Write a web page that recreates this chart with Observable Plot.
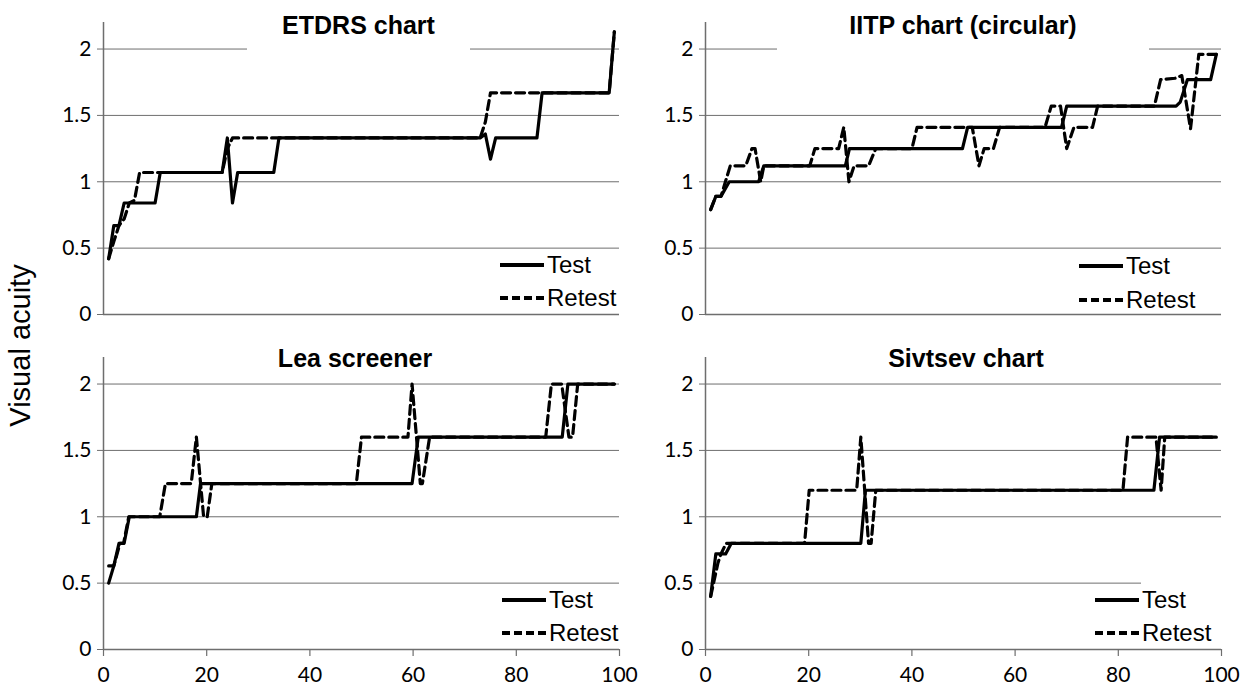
<!DOCTYPE html>
<html>
<head>
<meta charset="utf-8">
<script src="https://cdn.jsdelivr.net/npm/d3@7"></script>
<script src="https://cdn.jsdelivr.net/npm/@observablehq/plot@0.6"></script>
<style>
  html, body { margin: 0; padding: 0; background: #fff; }
  #wrap { position: relative; width: 1245px; height: 692px; background: #fff; overflow: hidden; }
  .panel { position: absolute; }
  .title { position: absolute; text-align: center; font-family: "Liberation Sans", Arial, sans-serif; font-weight: bold; font-size: 25px; color: #000; line-height: 1; }
  .leg { position: absolute; display: flex; align-items: center; font-family: "Liberation Sans", Arial, sans-serif; font-size: 24px; color: #000; height: 28px; }
  .leg svg { display: block; }
  .ylab { position: absolute; font-family: "Liberation Sans", Arial, sans-serif; font-size: 29px; color: #000; transform: rotate(-90deg); transform-origin: center center; white-space: nowrap; }
</style>
</head>
<body>
<div id="wrap"></div>
<script>
// ---------- data ----------
const panelTitles = ["ETDRS chart", "IITP chart (circular)", "Lea screener", "Sivtsev chart"];
const seriesNames = ["Test", "Retest"];
const yAxisTitle = "Visual acuity";
const yTicks = [0, 0.5, 1, 1.5, 2];
const xTicks = [0, 20, 40, 60, 80, 100];

// [x, visual acuity]
const etdrsTest = [[1,0.42],[2,0.67],[3,0.67],[4,0.84],[10,0.84],[11,1.07],[23,1.07],[24,1.33],[25,0.84],[26,1.07],[33,1.07],[34,1.33],[73,1.33],[74,1.36],[75,1.17],[76,1.33],[84,1.33],[85,1.67],[98,1.67],[99,2.13]];
const etdrsRetest = [[1,0.42],[2,0.55],[3,0.67],[4,0.72],[5,0.84],[6,0.86],[7,1.07],[23,1.07],[24,1.25],[25,1.33],[73,1.33],[74,1.45],[75,1.67],[98,1.67],[99,2.13]];

const iitpTest = [[1,0.79],[2,0.89],[3,0.89],[4.6,1.0],[10.3,1.0],[11.3,1.12],[27.1,1.12],[27.9,1.25],[49.8,1.25],[50.8,1.41],[69,1.41],[70,1.57],[91.2,1.57],[92,1.6],[93.4,1.77],[97.9,1.77],[99,1.96]];
const iitpRetest = [[1,0.79],[2,0.89],[3,0.89],[4.8,1.12],[7.8,1.12],[9,1.25],[9.6,1.25],[10.7,1.0],[11.3,1.12],[20.2,1.12],[21.2,1.25],[25.8,1.25],[26.8,1.41],[27.8,1.0],[28.8,1.12],[31.6,1.12],[33,1.25],[40,1.25],[41,1.41],[51.7,1.41],[53,1.12],[54,1.25],[55.8,1.25],[57,1.41],[65.8,1.41],[67,1.57],[68.8,1.57],[70,1.25],[71.4,1.41],[75,1.41],[76,1.57],[87,1.57],[88.2,1.77],[91,1.78],[92.3,1.8],[94,1.4],[95.6,1.96],[99,1.96]];

const leaTest = [[1,0.5],[2,0.63],[3,0.8],[4,0.8],[5,1.0],[18,1.0],[18.8,1.25],[59.8,1.25],[61,1.6],[88.9,1.6],[90,2.0],[99,2.0]];
const leaRetest = [[1,0.63],[2,0.63],[3.2,0.8],[3.9,0.8],[4.9,1.0],[10.9,1.0],[12,1.25],[17,1.25],[18,1.6],[19.4,1.0],[20.1,1.0],[21,1.25],[49,1.25],[50,1.6],[59,1.6],[59.8,2.0],[61.4,1.25],[61.8,1.25],[63.2,1.6],[85.7,1.6],[86.8,2.0],[88.8,2.0],[90.2,1.6],[90.9,1.6],[91.9,2.0],[99,2.0]];

const sivtsevTest = [[1,0.4],[2,0.72],[3.9,0.72],[5,0.8],[30.1,0.8],[31,1.2],[86.9,1.2],[88,1.6],[99,1.6]];
const sivtsevRetest = [[1,0.4],[2.4,0.65],[3,0.72],[4,0.8],[19.2,0.8],[20.1,1.2],[29.3,1.2],[30.1,1.6],[31.6,0.8],[32.1,0.8],[33,1.2],[80.9,1.2],[81.8,1.6],[87.3,1.6],[88.3,1.2],[89,1.6],[99,1.6]];

// ---------- layout ----------
const GRID = "#6e6e6e";
const panels = [
  {title: panelTitles[0], test: etdrsTest, retest: etdrsRetest, left: 0, top: 0, w: 630, h: 340, ml: 103, mr: 11, mt: 22, mb: 26, showX: false,
   tBox: {left: 247, top: 8, width: 223, height: 44, bg: true}, leg: {x: 500, y1: 265, y2: 298}},
  {title: panelTitles[1], test: iitpTest, retest: iitpRetest, left: 620, top: 0, w: 625, h: 340, ml: 85, mr: 24, mt: 22, mb: 26, showX: false,
   tBox: {left: 777, top: 8, width: 372, height: 44, bg: true}, leg: {x: 1079, y1: 266, y2: 300}},
  {title: panelTitles[2], test: leaTest, retest: leaRetest, left: 0, top: 340, w: 630, h: 352, ml: 103, mr: 11, mt: 17, mb: 43, showX: true,
   tBox: {left: 235, top: 344, width: 240, height: 26, bg: false}, leg: {x: 502, y1: 600, y2: 633}},
  {title: panelTitles[3], test: sivtsevTest, retest: sivtsevRetest, left: 620, top: 340, w: 625, h: 352, ml: 85, mr: 24, mt: 17, mb: 43, showX: true,
   tBox: {left: 846, top: 344, width: 240, height: 26, bg: false}, leg: {x: 1095, y1: 600, y2: 633, cover: true}}
];

const wrap = document.getElementById("wrap");

function makePlot(p) {
  return Plot.plot({
    width: p.w, height: p.h,
    marginLeft: p.ml, marginRight: p.mr, marginTop: p.mt, marginBottom: p.mb,
    style: {fontFamily: "Lato, 'Open Sans', sans-serif", fontSize: "21px", color: "#000", background: "transparent", overflow: "visible"},
    x: {domain: [0, 100], axis: null},
    y: {domain: [0, 2.2], axis: null},
    marks: [
      Plot.gridY(yTicks, {stroke: GRID, strokeOpacity: 1, strokeWidth: 1}),
      Plot.axisY(yTicks, {tickSize: 6, tickPadding: 6, stroke: GRID, strokeOpacity: 1, strokeWidth: 1, tickFormat: d => String(d), fill: "#000", label: null}),
      Plot.ruleX([0], {stroke: GRID, strokeWidth: 1.5}),
      Plot.ruleY([0], {stroke: GRID, strokeWidth: 1.5}),
      p.showX ? Plot.axisX(xTicks, {tickSize: 7, tickPadding: 11, stroke: GRID, strokeOpacity: 1, strokeWidth: 1.2, tickFormat: d => String(d), fill: "#000", label: null}) : null,
      Plot.line(p.retest, {x: d => d[0], y: d => d[1], stroke: "#000", strokeWidth: 3.2, strokeDasharray: "9,5", strokeLinejoin: "round"}),
      Plot.line(p.test, {x: d => d[0], y: d => d[1], stroke: "#000", strokeWidth: 3.2, strokeLinejoin: "round"})
    ]
  });
}

function legendRow(x, y, name, dashed) {
  const row = document.createElement("div");
  row.className = "leg";
  row.style.left = x + "px";
  row.style.top = (y - 14) + "px";
  row.innerHTML = `<svg width="46" height="28"><line x1="0" x2="44" y1="14" y2="14" stroke="#000" stroke-width="4" ${dashed ? 'stroke-dasharray="8,4"' : ''}/></svg><span style="margin-left:1px">${name}</span>`;
  return row;
}

for (const p of panels) {
  const div = document.createElement("div");
  div.className = "panel";
  div.style.left = p.left + "px";
  div.style.top = p.top + "px";
  div.appendChild(makePlot(p));
  wrap.appendChild(div);

  const t = document.createElement("div");
  t.className = "title";
  t.style.left = p.tBox.left + "px";
  t.style.top = p.tBox.top + "px";
  t.style.width = p.tBox.width + "px";
  t.style.height = p.tBox.height + "px";
  if (p.tBox.bg) t.style.background = "#fff";
  t.style.paddingTop = p.tBox.bg ? "5px" : "2px";
  t.style.boxSizing = "border-box";
  t.textContent = p.title;
  wrap.appendChild(t);

  if (p.leg.cover) {
    const c = document.createElement("div");
    c.style.position = "absolute";
    c.style.left = (p.leg.x + 46) + "px";
    c.style.top = (p.leg.y1 - 20) + "px";
    c.style.width = (1245 - p.leg.x - 46) + "px";
    c.style.height = "60px";
    c.style.background = "#fff";
    wrap.appendChild(c);
  }
  wrap.appendChild(legendRow(p.leg.x, p.leg.y1, seriesNames[0], false));
  wrap.appendChild(legendRow(p.leg.x, p.leg.y2, seriesNames[1], true));
}

const yl = document.createElement("div");
yl.className = "ylab";
yl.textContent = yAxisTitle;
wrap.appendChild(yl);
yl.style.left = (20 - yl.offsetWidth / 2) + "px";
yl.style.top = (345 - yl.offsetHeight / 2) + "px";
</script>
</body>
</html>
